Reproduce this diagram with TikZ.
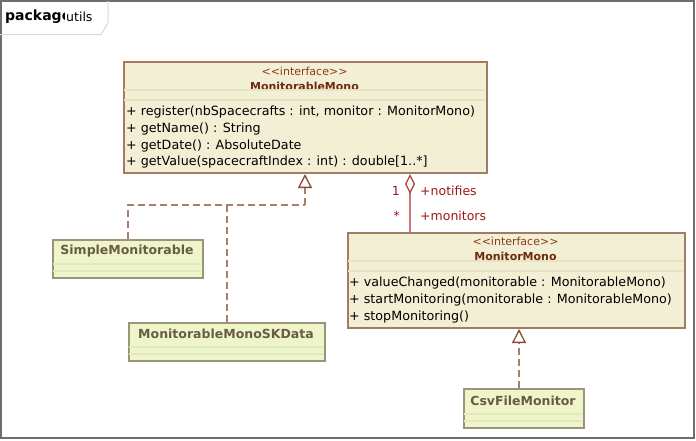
\documentclass[tikz,border=0pt]{standalone}
\usepackage{fontspec}
\setmainfont{DejaVu Sans}
\usetikzlibrary{arrows.meta}
\definecolor{iffill}{HTML}{F2EFD4}
\definecolor{clfill}{HTML}{EEF5C8}
\definecolor{ifborder}{HTML}{A27B62}
\definecolor{clborder}{HTML}{9C9378}
\definecolor{sepcol}{HTML}{E6E2C4}
\definecolor{clsep}{HTML}{E2E9BE}
\definecolor{stereo}{HTML}{8B3A1A}
\definecolor{ifname}{HTML}{6E2A10}
\definecolor{clname}{HTML}{6A5A48}
\definecolor{realcol}{HTML}{A87E6E}
\definecolor{tipcol}{HTML}{8B4A35}
\definecolor{aggcol}{HTML}{C87676}
\definecolor{aggtip}{HTML}{B04545}
\definecolor{lblcol}{HTML}{A01818}
\definecolor{framecol}{HTML}{6E6E6E}
\definecolor{tabcol}{HTML}{D8D8D8}
\tikzset{
  ifbox/.style={draw=ifborder, fill=iffill, line width=2pt, rectangle, inner sep=0pt, anchor=north west},
  clbox/.style={draw=clborder, fill=clfill, line width=2pt, rectangle, inner sep=0pt, anchor=north west},
  stereotxt/.style={text=stereo, font=\fontsize{11}{13}\selectfont, inner sep=0pt},
  ifnametxt/.style={text=ifname, font=\fontsize{11}{13}\selectfont\bfseries, inner sep=0pt},
  clnametxt/.style={text=clname, font=\fontsize{12.5}{14}\selectfont\bfseries, inner sep=0pt},
  optxt/.style={text=black, font=\fontsize{12.7}{15}\selectfont, inner sep=0pt, anchor=west},
  lbltxt/.style={text=lblcol, font=\fontsize{12.5}{15}\selectfont, inner sep=0pt},
  sepline/.style={draw=sepcol, line width=1.5pt},
  clsepline/.style={draw=clsep, line width=1.5pt},
  realline/.style={draw=realcol, line width=1.6pt, dash pattern=on 7pt off 4pt},
  realtip/.style={-{Triangle[open, width=14pt, length=14pt, line width=1.3pt, color=tipcol, fill=white]}},
  aggline/.style={draw=aggcol, line width=2pt, {Diamond[open, width=10pt, length=20pt, line width=1.3pt, color=aggtip, fill=white]}-},
}
\newcommand{\stereoint}{\textless{}\textless{}interface\textgreater{}\textgreater{}}
\begin{document}
\begin{tikzpicture}[x=1pt,y=-1pt]
\useasboundingbox (0,0) rectangle (696,440);
\fill[white] (0,0) rectangle (696,440);
% package frame
\draw[framecol, line width=2pt] (1,1) rectangle (694,438);
\draw[tabcol, line width=1pt] (0,34.5) -- (101,34.5) -- (108,23) -- (108,1);
\node[anchor=west, inner sep=0pt, font=\fontsize{14}{16}\selectfont\bfseries] (pkg) at (5,17) {package};
\node[anchor=west, inner sep=1pt, fill=white, font=\fontsize{12.5}{15}\selectfont] (pkgname) at (65,17) {utils};

% MonitorableMono
\node[ifbox, minimum width=363pt, minimum height=111pt] (mm) at (123,61) {};
\node[stereotxt] (mmst) at (304.5,71) {\stereoint};
\node[ifnametxt] (mmnm) at (304.5,86) {MonitorableMono};
\draw[sepline] (124,90) -- (485,90);
\draw[sepline] (124,100) -- (485,100);
\node[optxt] (mm1) at (126,112) {+ register(nbSpacecrafts : int, monitor : MonitorMono)};
\node[optxt] (mm2) at (126,129) {+ getName() : String};
\node[optxt] (mm3) at (126,146) {+ getDate() : AbsoluteDate};
\node[optxt] (mm4) at (126,162) {+ getValue(spacecraftIndex : int) : double[1..*]};

% MonitorMono
\node[ifbox, minimum width=337pt, minimum height=95pt] (mon) at (347,232) {};
\node[stereotxt] (monst) at (515.5,241) {\stereoint};
\node[ifnametxt] (monnm) at (515.5,256) {MonitorMono};
\draw[sepline] (348,261) -- (683,261);
\draw[sepline] (348,271) -- (683,271);
\node[optxt] (mon1) at (349,283) {+ valueChanged(monitorable : MonitorableMono)};
\node[optxt] (mon2) at (349,300) {+ startMonitoring(monitorable : MonitorableMono)};
\node[optxt] (mon3) at (349,317) {+ stopMonitoring()};

% SimpleMonitorable
\node[clbox, minimum width=150pt, minimum height=38pt] (simple) at (52,239) {};
\node[clnametxt] (simplenm) at (127,251) {SimpleMonitorable};
\draw[clsepline] (53,264) -- (201,264);
\draw[clsepline] (53,271) -- (201,271);

% MonitorableMonoSKData
\node[clbox, minimum width=196pt, minimum height=38pt] (sk) at (128,322) {};
\node[clnametxt] (sknm) at (226,334) {MonitorableMonoSKData};
\draw[clsepline] (129,347) -- (323,347);
\draw[clsepline] (129,354) -- (323,354);

% CsvFileMonitor
\node[clbox, minimum width=120pt, minimum height=39pt] (csv) at (463,388) {};
\node[clnametxt] (csvnm) at (523,401) {CsvFileMonitor};
\draw[clsepline] (464,414) -- (582,414);
\draw[clsepline] (464,421) -- (582,421);

% realizations to MonitorableMono
\coordinate (j1) at (305,205);
\draw[realline] (simple.north) |- (j1);
\draw[realline] (sk.north) -- (sk.north |- j1);
\draw[realline, realtip] (j1) -- (j1 |- mm.south);

% realization CsvFileMonitor -> MonitorMono
\coordinate (j2) at (519,388);
\draw[realline, realtip] (j2) -- (j2 |- mon.south);

% aggregation
\coordinate (agx) at (410,200);
\draw[aggline] (mm.south -| agx) -- (mon.north -| agx);
\node[lbltxt, anchor=east] (l1) at (400,191) {1};
\node[lbltxt, anchor=west] (l2) at (420,191) {+notifies};
\node[lbltxt, anchor=east] (l3) at (400,216) {*};
\node[lbltxt, anchor=west] (l4) at (420,216) {+monitors};
\end{tikzpicture}
\end{document}
